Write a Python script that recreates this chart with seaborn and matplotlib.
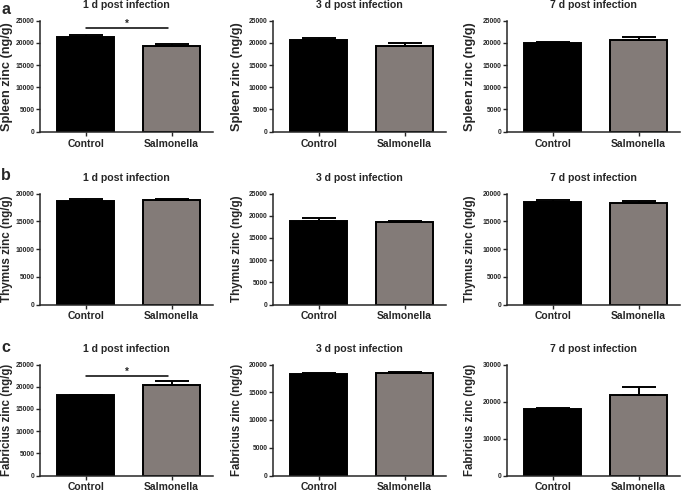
import matplotlib
matplotlib.use("Agg")
import matplotlib.pyplot as plt
import seaborn as sns

sns.set_style("ticks")
plt.rcParams['font.family'] = ['Liberation Sans', 'DejaVu Sans']
plt.rcParams['font.weight'] = 'bold'

groups = ["Control", "Salmonella"]
titles = ["1 d post infection", "3 d post infection", "7 d post infection"]
panel_letters = ["a", "b", "c"]
organs = ["Spleen zinc (ng/g)", "Thymus zinc (ng/g)", "Fabricius zinc (ng/g)"]
label_sizes = [9.2, 8.4, 8.3]

# mean and upper SEM per day (1 d, 3 d, 7 d)
spleen_mean = [[21230, 19400], [20600, 19320], [19890, 20560]]
spleen_sem = [[590, 460], [470, 610], [290, 740]]
thymus_mean = [[18690, 18750], [18870, 18500], [18520, 18220]]
thymus_sem = [[230, 200], [670, 300], [240, 480]]
fabricius_mean = [[18040, 20280], [18200, 18380], [17990, 21750]]
fabricius_sem = [[110, 900], [240, 240], [360, 2150]]

y_max = [[25000, 25000, 25000], [20000, 25000, 20000], [25000, 20000, 30000]]
y_step = [[5000, 5000, 5000], [5000, 5000, 5000], [5000, 5000, 10000]]

# significance markers: (row, col, line height, star height)
signif = [(0, 0, 23270, 24300), (2, 0, 22300, 23400)]

means = [spleen_mean, thymus_mean, fabricius_mean]
sems = [spleen_sem, thymus_sem, fabricius_sem]

bar_colors = ["#000000", "#857a76"]

fig = plt.figure(figsize=(6.84, 4.92), dpi=100)
lefts = [40 / 684, 273 / 684, 507 / 684]
bottoms = [1 - 131.7 / 492, 1 - 304.5 / 492, 1 - 475.5 / 492]
w, h = 173 / 684, 111 / 492
label_x = [-0.158, -0.172, -0.178]

axes = {}
for r in range(3):
    for c in range(3):
        ax = fig.add_axes([lefts[c], bottoms[r], w, h])
        axes[(r, c)] = ax
        m = means[r][c]
        s = sems[r][c]
        sns.barplot(x=groups, y=m, hue=groups, palette=bar_colors, legend=False,
                    edgecolor="black", linewidth=1.4, width=0.66, ax=ax, zorder=2)
        ax.errorbar([0, 1], m, yerr=[[0, 0], s], fmt="none", ecolor="black",
                    elinewidth=1.4, capsize=12, capthick=1.4, zorder=3)
        ax.set_xlim(-0.53, 1.48)
        ax.set_ylim(0, y_max[r][c])
        ax.set_yticks(range(0, y_max[r][c] + 1, y_step[r][c]))
        ax.set_ylabel(organs[r], fontsize=label_sizes[r], fontweight="bold")
        ax.yaxis.set_label_coords(label_x[c], 0.5)
        ax.set_xlabel("")
        ax.set_title(titles[c], fontsize=7.6, fontweight="bold", pad=9)
        ax.tick_params(axis="y", length=3, width=1, pad=1)
        ax.tick_params(axis="x", labelsize=7.5, length=3, width=1, pad=2)
        for lab in ax.get_yticklabels():
            lab.set_family(['Liberation Sans Narrow', 'Liberation Sans'])
            lab.set_fontsize(4.9)
            lab.set_fontweight("bold")
        for lab in ax.get_xticklabels():
            lab.set_fontweight("bold")
        sns.despine(ax=ax)
        for sp in ["left", "bottom"]:
            ax.spines[sp].set_linewidth(1.1)

for r, c, ly, sy in signif:
    ax = axes[(r, c)]
    ax.plot([0.0, 0.96], [ly, ly], color="black", lw=1.1, clip_on=False)
    ax.text(0.48, sy, "*", ha="center", va="center", fontsize=7, fontweight="bold")

letter_y = [9, 176, 348]
for letter, yy in zip(panel_letters, letter_y):
    fig.text(1 / 684, 1 - yy / 492, letter, fontsize=11.5, fontweight="bold",
             ha="left", va="center")

fig.savefig("out.png", dpi=100)
